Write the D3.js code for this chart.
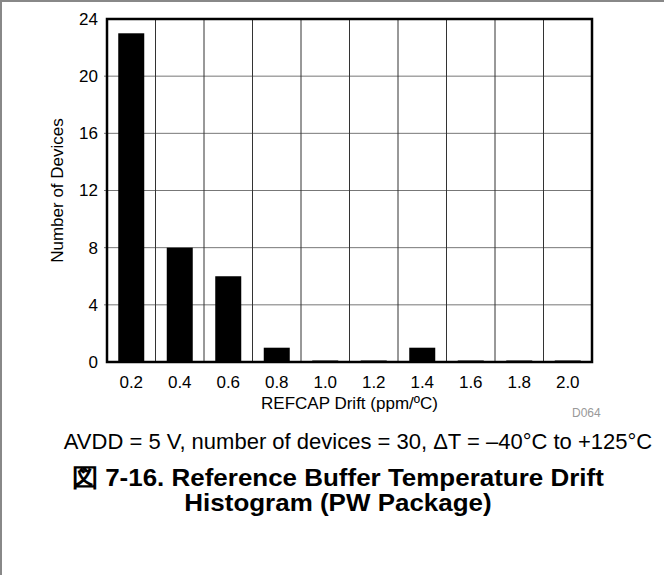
<!DOCTYPE html>
<html>
<head>
<meta charset="utf-8">
<script src="https://cdn.jsdelivr.net/npm/d3@7"></script>
<style>
  html, body { margin: 0; padding: 0; background: #fff; }
  svg { display: block; font-family: "Liberation Sans", Arial, sans-serif; }
</style>
</head>
<body>
<svg id="chart" width="664" height="575"></svg>
<script>
const categories = ["0.2", "0.4", "0.6", "0.8", "1.0", "1.2", "1.4", "1.6", "1.8", "2.0"];
const counts = [23, 8, 6, 1, 0, 0, 1, 0, 0, 0];
const yTicks = [0, 4, 8, 12, 16, 20, 24];
const xTitle = "REFCAP Drift (ppm/ºC)";
const yTitle = "Number of Devices";
const subtitle = "AVDD = 5 V, number of devices = 30, ΔT = –40°C to +125°C";
const titleLines = ["図 7-16. Reference Buffer Temperature Drift", "Histogram (PW Package)"];
const figId = "D064";

const svg = d3.select("#chart");
const W = 664, H = 575;
const m = { left: 107, right: 592, top: 19, bottom: 362 };

// page border (top and left)
svg.append("line").attr("x1", 0).attr("x2", W).attr("y1", 1).attr("y2", 1)
  .attr("stroke", "#888").attr("stroke-width", 2);
svg.append("line").attr("x1", 1).attr("x2", 1).attr("y1", 0).attr("y2", H)
  .attr("stroke", "#888").attr("stroke-width", 2);

const x = d3.scaleBand().domain(categories).range([m.left, m.right]).paddingInner(0).paddingOuter(0);
const y = d3.scaleLinear().domain([0, 24]).range([m.bottom, m.top]);

// horizontal gridlines
svg.append("g").selectAll("line").data(yTicks.slice(1, -1)).join("line")
  .attr("x1", m.left - 3).attr("x2", m.right)
  .attr("y1", d => y(d)).attr("y2", d => y(d))
  .attr("stroke", "#777").attr("stroke-width", 1);

// vertical gridlines (column boundaries)
svg.append("g").selectAll("line").data(categories.slice(1)).join("line")
  .attr("x1", d => x(d)).attr("x2", d => x(d))
  .attr("y1", m.top).attr("y2", m.bottom)
  .attr("stroke", "#333").attr("stroke-width", 1);

// bars
const barW = 26;
svg.append("g").selectAll("rect").data(counts).join("rect")
  .attr("x", (d, i) => x(categories[i]) + x.bandwidth() / 2 - barW / 2)
  .attr("width", barW)
  .attr("y", d => Math.min(y(d), m.bottom - 1.5))
  .attr("height", d => Math.max(m.bottom - y(d), 1.5))
  .attr("fill", "#000");

// frame
svg.append("rect").attr("x", m.left).attr("y", m.top)
  .attr("width", m.right - m.left).attr("height", m.bottom - m.top)
  .attr("fill", "none").attr("stroke", "#000").attr("stroke-width", 2.5);

// y axis labels
const yAxis = d3.axisLeft(y).tickValues(yTicks).tickSize(0).tickPadding(9);
const gy = svg.append("g").attr("transform", `translate(${m.left},0)`).call(yAxis);
gy.select(".domain").remove();
gy.selectAll("text").attr("font-size", 17).attr("fill", "#000")
  .attr("font-family", "Liberation Sans, Arial, sans-serif");

// x axis labels
const xAxis = d3.axisBottom(x).tickSize(0).tickPadding(14);
const gx = svg.append("g").attr("transform", `translate(0,${m.bottom})`).call(xAxis);
gx.select(".domain").remove();
gx.selectAll("text").attr("font-size", 17).attr("fill", "#000")
  .attr("font-family", "Liberation Sans, Arial, sans-serif");

// axis titles
svg.append("text").attr("x", (m.left + m.right) / 2).attr("y", 409)
  .attr("text-anchor", "middle").attr("font-size", 17).text(xTitle);
svg.append("text").attr("transform", `translate(63,${(m.top + m.bottom) / 2}) rotate(-90)`)
  .attr("text-anchor", "middle").attr("font-size", 17).text(yTitle);

svg.append("text").attr("x", 572).attr("y", 417)
  .attr("font-size", 12).attr("fill", "#999").text(figId);

svg.append("text").attr("x", 358).attr("y", 449)
  .attr("text-anchor", "middle").attr("font-size", 22).text(subtitle);

svg.append("g").attr("transform", "translate(338,0) scale(1.06,1)")
  .selectAll("text").data(titleLines).join("text")
  .attr("x", 0).attr("y", (d, i) => 486 + i * 25)
  .attr("text-anchor", "middle").attr("font-size", 24.5).attr("font-weight", "bold")
  .text(d => d);
</script>
</body>
</html>
